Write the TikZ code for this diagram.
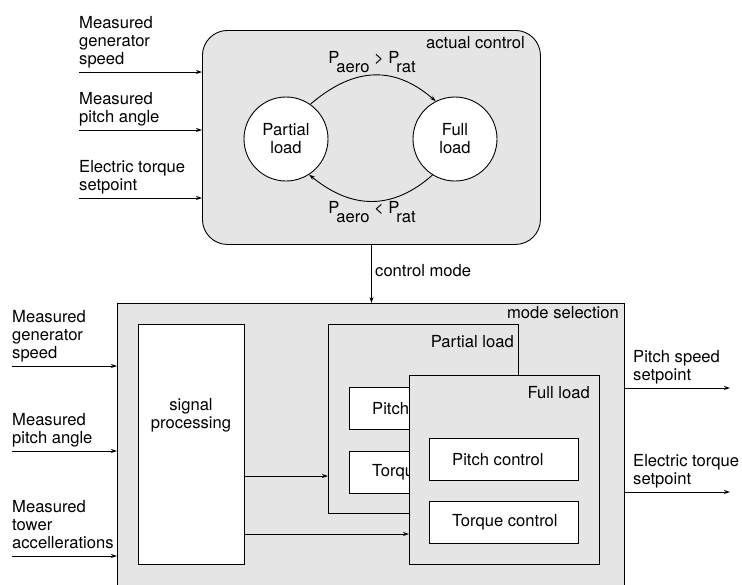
\documentclass[tikz,border=0pt]{standalone}
\usepackage{fontspec}
\setmainfont{TeX Gyre Heros}
\usetikzlibrary{arrows.meta}
\definecolor{boxgray}{HTML}{E5E5E5}
\newcommand{\lowsub}[1]{\kern-3pt\raisebox{-8.5pt}{#1}}
\begin{document}
\begin{tikzpicture}[x=1pt,y=-1pt,
  every node/.style={font=\fontsize{16.6}{18}\selectfont},
  lw/.style={line width=0.9pt},
  arr/.style={lw,-{Stealth[length=6pt,width=4pt]}},
  blk/.style={draw,lw,fill=white,inner sep=0,anchor=north west},
  grp/.style={draw,lw,fill=boxgray,inner sep=0,anchor=north west},
  lbl/.style={align=left,inner sep=0,anchor=south west},
  ttl/.style={inner sep=0,anchor=east},
  txt/.style={inner sep=0,anchor=west},
  state/.style={circle,draw,lw,fill=white,minimum size=84pt,inner sep=0,align=center},
]
\useasboundingbox (0,0) rectangle (742,584);
\clip (0,0) rectangle (742,584);

% ---------- actual control ----------
\node[grp,rounded corners=25pt,minimum width=338pt,minimum height=214pt] (ac) at (202,30) {};
\node[ttl] (actt) at (525,43) {actual control};
\node[state] (pl) at (286,139) {Partial\\load};
\node[state] (fl) at (455,139) {Full\\load};
\draw[arr] (pl.55) .. controls (355,66) and (395,66) .. (fl.117);
\draw[arr] (fl.-122) .. controls (393,210) and (352,210) .. (pl.-57);
\node[inner sep=0] (cup) at (372,62) {P\lowsub{aero} > P\lowsub{rat}};
\node[inner sep=0] (cdn) at (372,212) {P\lowsub{aero} < P\lowsub{rat}};

% inputs to actual control
\coordinate (a1) at (79,72);
\coordinate (a2) at (79,130);
\coordinate (a3) at (79,198);
\draw[arr] (a1) -- (a1 -| ac.west);
\draw[arr] (a2) -- (a2 -| ac.west);
\draw[arr] (a3) -- (a3 -| ac.west);
\node[lbl] (la1) at (79,70.5) {Measured\\generator\\speed\strut};
\node[lbl] (la2) at (79,128.5) {Measured\\pitch angle\strut};
\node[lbl] (la3) at (79,196.5) {Electric torque\\setpoint\strut};

% ---------- mode selection ----------
\node[grp,minimum width=507pt,minimum height=320pt] (ms) at (117,303) {};
\draw[arr] (ac.south) -- (ac.south |- ms.north);
\node[txt] (cm) at (375,271) {control mode};
\node[ttl] (mst) at (619,313) {mode selection};

\node[blk,minimum width=106pt,minimum height=240pt] (sp) at (138,324) {};
\node[inner sep=0,align=center] (spt) at (191,415) {signal\\processing};

% partial load block
\node[grp,minimum width=190pt,minimum height=189pt] (pb) at (328,324) {};
\node[ttl] (pbt) at (514,342) {Partial load};
\node[blk,minimum width=149pt,minimum height=42pt] (pp) at (349,387) {};
\node[txt] (ppt) at ([xshift=23pt]pp.west) {Pitch control};
\node[blk,minimum width=149pt,minimum height=42pt] (pq) at (349,451) {};
\node[txt] (pqt) at ([xshift=23pt]pq.west) {Torque control};

% full load block
\node[grp,minimum width=190pt,minimum height=189pt] (fb) at (409,375) {};
\node[ttl] (fbt) at (590,393) {Full load};
\node[blk,minimum width=149pt,minimum height=42pt] (fp) at (429,438) {};
\node[txt] (fpt) at ([xshift=23pt]fp.west) {Pitch control};
\node[blk,minimum width=149pt,minimum height=42pt] (fq) at (429,501) {};
\node[txt] (fqt) at ([xshift=23pt]fq.west) {Torque control};

% signal processing outputs
\coordinate (s1) at (0,476);
\coordinate (s2) at (0,534);
\draw[arr] (sp.east |- s1) -- (pb.west |- s1);
\draw[arr] (sp.east |- s2) -- (fb.west |- s2);

% inputs to mode selection
\coordinate (b1) at (12,366);
\coordinate (b2) at (12,451);
\coordinate (b3) at (12,556);
\draw[arr] (b1) -- (b1 -| ms.west);
\draw[arr] (b2) -- (b2 -| ms.west);
\draw[arr] (b3) -- (b3 -| ms.west);
\node[lbl] (lb1) at (12,364.5) {Measured\\generator\\speed\strut};
\node[lbl] (lb2) at (12,449.5) {Measured\\pitch angle\strut};
\node[lbl] (lb3) at (12,554.5) {Measured\\tower\\accellerations\strut};

% outputs
\coordinate (o1) at (730,388);
\coordinate (o2) at (730,492);
\draw[arr] (o1 -| ms.east) -- (o1);
\draw[arr] (o2 -| ms.east) -- (o2);
\node[lbl] (lo1) at (633,386.5) {Pitch speed\\setpoint\strut};
\node[lbl] (lo2) at (633,490.5) {Electric torque\\setpoint\strut};
\end{tikzpicture}
\end{document}
